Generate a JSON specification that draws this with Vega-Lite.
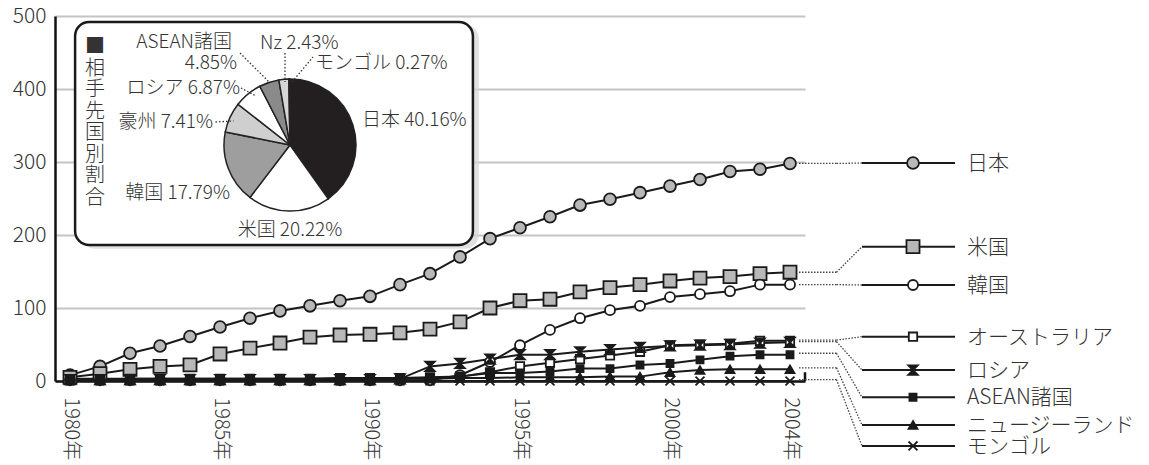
{
  "$schema": "https://vega.github.io/schema/vega-lite/v6.json",
  "autosize": {"type": "none"},
  "width": 750,
  "height": 365,
  "padding": {"left": 55, "top": 16, "right": 344, "bottom": 84},
  "background": "white",
  "config": {
    "view": {"stroke": null},
    "font": "Noto Sans CJK JP",
    "text": {"font": "Noto Sans CJK JP", "color": "#333333", "fontWeight": 300},
    "axisX": {"ticks": false, "grid": false, "domainColor": "#111111", "domainWidth": 2.5,
              "labelAngle": 90, "labelAlign": "left", "labelBaseline": "middle", "labelPadding": 16,
              "labelFontSize": 20, "labelColor": "#333333", "labelFont": "Noto Sans CJK JP", "labelFontWeight": 300, "title": null},
    "axisY": {"ticks": false, "grid": true, "gridColor": "#c4c4c4", "gridWidth": 2, "domainColor": "#111111", "domainWidth": 2.5,
              "labelPadding": 9, "labelFontSize": 21, "labelColor": "#333333", "labelFont": "Noto Sans CJK JP", "labelFontWeight": 300, "title": null}
  },
  "datasets": {
    "series": [
      {"year":1980,"country":"日本","value":8},{"year":1981,"country":"日本","value":20},{"year":1982,"country":"日本","value":38},{"year":1983,"country":"日本","value":48},{"year":1984,"country":"日本","value":61},{"year":1985,"country":"日本","value":74},{"year":1986,"country":"日本","value":86},{"year":1987,"country":"日本","value":96},{"year":1988,"country":"日本","value":103},{"year":1989,"country":"日本","value":110},{"year":1990,"country":"日本","value":116},{"year":1991,"country":"日本","value":132},{"year":1992,"country":"日本","value":147},{"year":1993,"country":"日本","value":170},{"year":1994,"country":"日本","value":195},{"year":1995,"country":"日本","value":210},{"year":1996,"country":"日本","value":225},{"year":1997,"country":"日本","value":241},{"year":1998,"country":"日本","value":249},{"year":1999,"country":"日本","value":258},{"year":2000,"country":"日本","value":267},{"year":2001,"country":"日本","value":276},{"year":2002,"country":"日本","value":287},{"year":2003,"country":"日本","value":290},{"year":2004,"country":"日本","value":298},
      {"year":1980,"country":"米国","value":5},{"year":1981,"country":"米国","value":10},{"year":1982,"country":"米国","value":16},{"year":1983,"country":"米国","value":20},{"year":1984,"country":"米国","value":22},{"year":1985,"country":"米国","value":37},{"year":1986,"country":"米国","value":45},{"year":1987,"country":"米国","value":52},{"year":1988,"country":"米国","value":60},{"year":1989,"country":"米国","value":63},{"year":1990,"country":"米国","value":64},{"year":1991,"country":"米国","value":66},{"year":1992,"country":"米国","value":71},{"year":1993,"country":"米国","value":81},{"year":1994,"country":"米国","value":100},{"year":1995,"country":"米国","value":110},{"year":1996,"country":"米国","value":112},{"year":1997,"country":"米国","value":122},{"year":1998,"country":"米国","value":128},{"year":1999,"country":"米国","value":132},{"year":2000,"country":"米国","value":137},{"year":2001,"country":"米国","value":141},{"year":2002,"country":"米国","value":143},{"year":2003,"country":"米国","value":147},{"year":2004,"country":"米国","value":149},
      {"year":1980,"country":"韓国","value":1},{"year":1981,"country":"韓国","value":1},{"year":1982,"country":"韓国","value":1},{"year":1983,"country":"韓国","value":1},{"year":1984,"country":"韓国","value":1},{"year":1985,"country":"韓国","value":1},{"year":1986,"country":"韓国","value":1},{"year":1987,"country":"韓国","value":1},{"year":1988,"country":"韓国","value":1},{"year":1989,"country":"韓国","value":1},{"year":1990,"country":"韓国","value":1},{"year":1991,"country":"韓国","value":1},{"year":1992,"country":"韓国","value":1},{"year":1993,"country":"韓国","value":8},{"year":1994,"country":"韓国","value":26},{"year":1995,"country":"韓国","value":49},{"year":1996,"country":"韓国","value":70},{"year":1997,"country":"韓国","value":86},{"year":1998,"country":"韓国","value":97},{"year":1999,"country":"韓国","value":103},{"year":2000,"country":"韓国","value":115},{"year":2001,"country":"韓国","value":119},{"year":2002,"country":"韓国","value":123},{"year":2003,"country":"韓国","value":132},{"year":2004,"country":"韓国","value":132},
      {"year":1980,"country":"オーストラリア","value":2},{"year":1981,"country":"オーストラリア","value":2},{"year":1982,"country":"オーストラリア","value":3},{"year":1983,"country":"オーストラリア","value":3},{"year":1984,"country":"オーストラリア","value":3},{"year":1985,"country":"オーストラリア","value":3},{"year":1986,"country":"オーストラリア","value":3},{"year":1987,"country":"オーストラリア","value":3},{"year":1988,"country":"オーストラリア","value":3},{"year":1989,"country":"オーストラリア","value":4},{"year":1990,"country":"オーストラリア","value":4},{"year":1991,"country":"オーストラリア","value":4},{"year":1992,"country":"オーストラリア","value":5},{"year":1993,"country":"オーストラリア","value":6},{"year":1994,"country":"オーストラリア","value":12},{"year":1995,"country":"オーストラリア","value":20},{"year":1996,"country":"オーストラリア","value":25},{"year":1997,"country":"オーストラリア","value":30},{"year":1998,"country":"オーストラリア","value":35},{"year":1999,"country":"オーストラリア","value":40},{"year":2000,"country":"オーストラリア","value":49},{"year":2001,"country":"オーストラリア","value":50},{"year":2002,"country":"オーストラリア","value":51},{"year":2003,"country":"オーストラリア","value":55},{"year":2004,"country":"オーストラリア","value":55},
      {"year":1980,"country":"ロシア","value":2},{"year":1981,"country":"ロシア","value":2},{"year":1982,"country":"ロシア","value":2},{"year":1983,"country":"ロシア","value":2},{"year":1984,"country":"ロシア","value":2},{"year":1985,"country":"ロシア","value":2},{"year":1986,"country":"ロシア","value":2},{"year":1987,"country":"ロシア","value":2},{"year":1988,"country":"ロシア","value":2},{"year":1989,"country":"ロシア","value":2},{"year":1990,"country":"ロシア","value":2},{"year":1991,"country":"ロシア","value":3},{"year":1992,"country":"ロシア","value":20},{"year":1993,"country":"ロシア","value":24},{"year":1994,"country":"ロシア","value":30},{"year":1995,"country":"ロシア","value":36},{"year":1996,"country":"ロシア","value":36},{"year":1997,"country":"ロシア","value":40},{"year":1998,"country":"ロシア","value":43},{"year":1999,"country":"ロシア","value":46},{"year":2000,"country":"ロシア","value":48},{"year":2001,"country":"ロシア","value":49},{"year":2002,"country":"ロシア","value":50},{"year":2003,"country":"ロシア","value":52},{"year":2004,"country":"ロシア","value":53},
      {"year":1980,"country":"ASEAN諸国","value":3},{"year":1981,"country":"ASEAN諸国","value":3},{"year":1982,"country":"ASEAN諸国","value":3},{"year":1983,"country":"ASEAN諸国","value":3},{"year":1984,"country":"ASEAN諸国","value":3},{"year":1985,"country":"ASEAN諸国","value":3},{"year":1986,"country":"ASEAN諸国","value":3},{"year":1987,"country":"ASEAN諸国","value":3},{"year":1988,"country":"ASEAN諸国","value":3},{"year":1989,"country":"ASEAN諸国","value":3},{"year":1990,"country":"ASEAN諸国","value":3},{"year":1991,"country":"ASEAN諸国","value":4},{"year":1992,"country":"ASEAN諸国","value":4},{"year":1993,"country":"ASEAN諸国","value":6},{"year":1994,"country":"ASEAN諸国","value":11},{"year":1995,"country":"ASEAN諸国","value":11},{"year":1996,"country":"ASEAN諸国","value":13},{"year":1997,"country":"ASEAN諸国","value":17},{"year":1998,"country":"ASEAN諸国","value":17},{"year":1999,"country":"ASEAN諸国","value":22},{"year":2000,"country":"ASEAN諸国","value":24},{"year":2001,"country":"ASEAN諸国","value":29},{"year":2002,"country":"ASEAN諸国","value":34},{"year":2003,"country":"ASEAN諸国","value":36},{"year":2004,"country":"ASEAN諸国","value":36},
      {"year":1980,"country":"ニュージーランド","value":2},{"year":1981,"country":"ニュージーランド","value":2},{"year":1982,"country":"ニュージーランド","value":2},{"year":1983,"country":"ニュージーランド","value":2},{"year":1984,"country":"ニュージーランド","value":2},{"year":1985,"country":"ニュージーランド","value":2},{"year":1986,"country":"ニュージーランド","value":2},{"year":1987,"country":"ニュージーランド","value":2},{"year":1988,"country":"ニュージーランド","value":2},{"year":1989,"country":"ニュージーランド","value":3},{"year":1990,"country":"ニュージーランド","value":3},{"year":1991,"country":"ニュージーランド","value":3},{"year":1992,"country":"ニュージーランド","value":3},{"year":1993,"country":"ニュージーランド","value":4},{"year":1994,"country":"ニュージーランド","value":4},{"year":1995,"country":"ニュージーランド","value":5},{"year":1996,"country":"ニュージーランド","value":5},{"year":1997,"country":"ニュージーランド","value":5},{"year":1998,"country":"ニュージーランド","value":6},{"year":1999,"country":"ニュージーランド","value":6},{"year":2000,"country":"ニュージーランド","value":12},{"year":2001,"country":"ニュージーランド","value":15},{"year":2002,"country":"ニュージーランド","value":16},{"year":2003,"country":"ニュージーランド","value":16},{"year":2004,"country":"ニュージーランド","value":16},
      {"year":1980,"country":"モンゴル","value":0},{"year":1981,"country":"モンゴル","value":0},{"year":1982,"country":"モンゴル","value":0},{"year":1983,"country":"モンゴル","value":0},{"year":1984,"country":"モンゴル","value":0},{"year":1985,"country":"モンゴル","value":0},{"year":1986,"country":"モンゴル","value":0},{"year":1987,"country":"モンゴル","value":0},{"year":1988,"country":"モンゴル","value":0},{"year":1989,"country":"モンゴル","value":0},{"year":1990,"country":"モンゴル","value":0},{"year":1991,"country":"モンゴル","value":0},{"year":1992,"country":"モンゴル","value":0},{"year":1993,"country":"モンゴル","value":0},{"year":1994,"country":"モンゴル","value":0},{"year":1995,"country":"モンゴル","value":0},{"year":1996,"country":"モンゴル","value":0},{"year":1997,"country":"モンゴル","value":0},{"year":1998,"country":"モンゴル","value":0},{"year":1999,"country":"モンゴル","value":0},{"year":2000,"country":"モンゴル","value":0},{"year":2001,"country":"モンゴル","value":0},{"year":2002,"country":"モンゴル","value":0},{"year":2003,"country":"モンゴル","value":0},{"year":2004,"country":"モンゴル","value":0}
    ],
    "pie": [
      {"slice":"日本","pct":40.16},{"slice":"米国","pct":20.22},{"slice":"韓国","pct":17.79},{"slice":"豪州","pct":7.41},{"slice":"ロシア","pct":6.87},{"slice":"ASEAN諸国","pct":4.85},{"slice":"Nz","pct":2.43},{"slice":"モンゴル","pct":0.27}
    ],
    "legend": [
      {"country":"日本","endValue":298,"legendValue":298.6},
      {"country":"米国","endValue":149,"legendValue":184},
      {"country":"韓国","endValue":132,"legendValue":131.5},
      {"country":"オーストラリア","endValue":56,"legendValue":60.7},
      {"country":"ロシア","endValue":54,"legendValue":15},
      {"country":"ASEAN諸国","endValue":38,"legendValue":-22.3},
      {"country":"ニュージーランド","endValue":18,"legendValue":-60.3},
      {"country":"モンゴル","endValue":2,"legendValue":-89}
    ]
  },
  "layer": [
    {
      "data": {"name": "series"},
      "mark": {"type": "line", "color": "#1a1a1a", "strokeWidth": 2},
      "encoding": {
        "x": {"field": "year", "type": "quantitative", "title": null,
              "scale": {"domain": [1979.5, 2004.5], "nice": false, "zero": false},
              "axis": {"values": [1980, 1985, 1990, 1995, 2000, 2004], "labelExpr": "datum.value + '年'"}},
        "y": {"field": "value", "type": "quantitative", "title": null,
              "scale": {"domain": [0, 500], "nice": false},
              "axis": {"values": [0, 100, 200, 300, 400, 500]}},
        "detail": {"field": "country"}
      }
    },
    {
      "data": {"values": [{}]},
      "mark": {"type": "rule", "color": "#111111", "strokeWidth": 2.5},
      "encoding": {
        "x": {"datum": 2004.5, "type": "quantitative", "title": null},
        "y": {"datum": 0, "type": "quantitative", "title": null},
        "y2": {"datum": 12}
      }
    },
    {
      "data": {"values": [{}]},
      "mark": {"type": "rect", "fill": "#d4d4d4", "opacity": 0.7, "cornerRadius": 14},
      "encoding": {
        "x": {"datum": 1980.37, "type": "quantitative", "title": null},
        "x2": {"datum": 1993.63},
        "y": {"datum": 488, "type": "quantitative", "title": null},
        "y2": {"datum": 181}
      }
    },
    {
      "data": {"values": [{}]},
      "mark": {"type": "rect", "fill": "white", "stroke": "#1a1a1a", "strokeWidth": 2.5, "cornerRadius": 14},
      "encoding": {
        "x": {"datum": 1980.17, "type": "quantitative", "title": null},
        "x2": {"datum": 1993.43},
        "y": {"datum": 491.8, "type": "quantitative", "title": null},
        "y2": {"datum": 186.3}
      }
    },
    {
      "data": {"name": "pie"},
      "mark": {"type": "arc", "outerRadius": 66, "stroke": "#222222", "strokeWidth": 1.5},
      "encoding": {
        "theta": {"field": "pct", "type": "quantitative", "stack": true},
        "order": {"field": "pct", "sort": "descending"},
        "color": {"field": "slice", "type": "nominal", "legend": null,
                  "scale": {"domain": ["日本","米国","韓国","豪州","ロシア","ASEAN諸国","Nz","モンゴル"],
                            "range": ["#231f20","#ffffff","#9e9e9e","#cfcfcf","#ffffff","#8a8a8a","#d6d6d6","#ffffff"]}},
        "x": {"datum": 1987.333, "type": "quantitative", "title": null},
        "y": {"datum": 323.3, "type": "quantitative", "title": null}
      }
    },
    {
      "data": {"values": [{}]},
      "mark": {"type": "rule", "color": "#333333", "strokeWidth": 1.3, "strokeDash": [1.5, 2]},
      "encoding": {"x": {"datum": 1985.667, "type": "quantitative", "title": null}, "y": {"datum": 449.3, "type": "quantitative", "title": null}, "x2": {"datum": 1986.667}, "y2": {"datum": 408.2}}
    },
    {
      "data": {"values": [{}]},
      "mark": {"type": "rule", "color": "#333333", "strokeWidth": 1.3, "strokeDash": [1.5, 2]},
      "encoding": {"x": {"datum": 1987.167, "type": "quantitative", "title": null}, "y": {"datum": 449.3, "type": "quantitative", "title": null}, "x2": {"datum": 1987.167}, "y2": {"datum": 409.6}}
    },
    {
      "data": {"values": [{}]},
      "mark": {"type": "rule", "color": "#333333", "strokeWidth": 1.3, "strokeDash": [1.5, 2]},
      "encoding": {"x": {"datum": 1987.4, "type": "quantitative", "title": null}, "y": {"datum": 409.6, "type": "quantitative", "title": null}, "x2": {"datum": 1988.1}, "y2": {"datum": 443.8}}
    },
    {
      "data": {"values": [{}]},
      "mark": {"type": "rule", "color": "#333333", "strokeWidth": 1.3, "strokeDash": [1.5, 2]},
      "encoding": {"x": {"datum": 1985.7, "type": "quantitative", "title": null}, "y": {"datum": 401.4, "type": "quantitative", "title": null}, "x2": {"datum": 1986.2}, "y2": {"datum": 390.4}}
    },
    {
      "data": {"values": [{}]},
      "mark": {"type": "rule", "color": "#333333", "strokeWidth": 1.3, "strokeDash": [1.5, 2]},
      "encoding": {"x": {"datum": 1984.85, "type": "quantitative", "title": null}, "y": {"datum": 354.8, "type": "quantitative", "title": null}, "x2": {"datum": 1985.45}, "y2": {"datum": 356.2}}
    },
    {
      "data": {"values": [{}]},
      "mark": {"type": "text", "text": ["■","相","手","先","国","別","割","合"], "align": "center", "baseline": "top", "fontSize": 20, "lineHeight": 21.5},
      "encoding": {"x": {"datum": 1980.833, "type": "quantitative", "title": null}, "y": {"datum": 471, "type": "quantitative", "title": null}}
    },
    {
      "data": {"values": [{}]},
      "mark": {"type": "text", "text": "ASEAN諸国", "align": "right", "baseline": "middle", "fontSize": 19},
      "encoding": {"x": {"datum": 1985.4, "type": "quantitative", "title": null}, "y": {"datum": 464, "type": "quantitative", "title": null}}
    },
    {
      "data": {"values": [{}]},
      "mark": {"type": "text", "text": "4.85%", "align": "right", "baseline": "middle", "fontSize": 19},
      "encoding": {"x": {"datum": 1985.567, "type": "quantitative", "title": null}, "y": {"datum": 436, "type": "quantitative", "title": null}}
    },
    {
      "data": {"values": [{}]},
      "mark": {"type": "text", "text": "Nz 2.43%", "align": "left", "baseline": "middle", "fontSize": 19},
      "encoding": {"x": {"datum": 1986.333, "type": "quantitative", "title": null}, "y": {"datum": 463, "type": "quantitative", "title": null}}
    },
    {
      "data": {"values": [{}]},
      "mark": {"type": "text", "text": "モンゴル 0.27%", "align": "left", "baseline": "middle", "fontSize": 19},
      "encoding": {"x": {"datum": 1988.167, "type": "quantitative", "title": null}, "y": {"datum": 435.6, "type": "quantitative", "title": null}}
    },
    {
      "data": {"values": [{}]},
      "mark": {"type": "text", "text": "ロシア 6.87%", "align": "right", "baseline": "middle", "fontSize": 19},
      "encoding": {"x": {"datum": 1985.667, "type": "quantitative", "title": null}, "y": {"datum": 401.4, "type": "quantitative", "title": null}}
    },
    {
      "data": {"values": [{}]},
      "mark": {"type": "text", "text": "豪州 7.41%", "align": "right", "baseline": "middle", "fontSize": 19},
      "encoding": {"x": {"datum": 1984.767, "type": "quantitative", "title": null}, "y": {"datum": 354.8, "type": "quantitative", "title": null}}
    },
    {
      "data": {"values": [{}]},
      "mark": {"type": "text", "text": "日本 40.16%", "align": "left", "baseline": "middle", "fontSize": 19},
      "encoding": {"x": {"datum": 1989.733, "type": "quantitative", "title": null}, "y": {"datum": 357.5, "type": "quantitative", "title": null}}
    },
    {
      "data": {"values": [{}]},
      "mark": {"type": "text", "text": "韓国 17.79%", "align": "right", "baseline": "middle", "fontSize": 19},
      "encoding": {"x": {"datum": 1985.333, "type": "quantitative", "title": null}, "y": {"datum": 257.5, "type": "quantitative", "title": null}}
    },
    {
      "data": {"values": [{}]},
      "mark": {"type": "text", "text": "米国 20.22%", "align": "center", "baseline": "middle", "fontSize": 19},
      "encoding": {"x": {"datum": 1987.333, "type": "quantitative", "title": null}, "y": {"datum": 206.8, "type": "quantitative", "title": null}}
    },
    {
      "data": {"name": "series"},
      "mark": {"type": "point", "filled": false, "opacity": 1, "stroke": "#1a1a1a", "strokeWidth": 1.8},
      "encoding": {
        "x": {"field": "year", "type": "quantitative", "title": null},
        "y": {"field": "value", "type": "quantitative", "title": null},
        "shape": {"field": "country", "type": "nominal", "legend": null,
                  "scale": {"domain": ["日本","米国","韓国","オーストラリア","ロシア","ASEAN諸国","ニュージーランド","モンゴル"],
                            "range": ["circle","square","circle","square","M-1,-1L1,-1L-1,1L1,1Z","square","triangle-up","M-1,-1L1,1M-1,1L1,-1"]}},
        "fill": {"field": "country", "type": "nominal", "legend": null,
                 "scale": {"domain": ["日本","米国","韓国","オーストラリア","ロシア","ASEAN諸国","ニュージーランド","モンゴル"],
                           "range": ["#b8b8b8","#b8b8b8","#ffffff","#ffffff","#1a1a1a","#1a1a1a","#1a1a1a","transparent"]}},
        "size": {"condition": [
                   {"test": "datum.country === '日本'", "value": 140},
                   {"test": "datum.country === '米国'", "value": 170},
                   {"test": "datum.country === '韓国'", "value": 100},
                   {"test": "datum.country === 'オーストラリア'", "value": 70},
                   {"test": "datum.country === 'ロシア'", "value": 90},
                   {"test": "datum.country === 'ASEAN諸国'", "value": 50}
                 ], "value": 80}
      }
    },
    {
      "data": {"name": "legend"},
      "mark": {"type": "rule", "color": "#444444", "strokeWidth": 1.3, "strokeDash": [1.5, 1.5]},
      "encoding": {
        "x": {"datum": 2004.3, "type": "quantitative", "title": null},
        "x2": {"datum": 2005.55},
        "y": {"field": "endValue", "type": "quantitative", "title": null}
      }
    },
    {
      "data": {"name": "legend"},
      "mark": {"type": "rule", "color": "#444444", "strokeWidth": 1.3, "strokeDash": [1.5, 1.5]},
      "encoding": {
        "x": {"datum": 2005.55, "type": "quantitative", "title": null},
        "x2": {"datum": 2006.4},
        "y": {"field": "endValue", "type": "quantitative", "title": null},
        "y2": {"field": "legendValue"}
      }
    },
    {
      "data": {"name": "legend"},
      "mark": {"type": "rule", "color": "#1a1a1a", "strokeWidth": 2},
      "encoding": {
        "x": {"datum": 2006.4, "type": "quantitative", "title": null},
        "x2": {"datum": 2009.5},
        "y": {"field": "legendValue", "type": "quantitative", "title": null}
      }
    },
    {
      "data": {"name": "legend"},
      "mark": {"type": "point", "filled": false, "opacity": 1, "stroke": "#1a1a1a", "strokeWidth": 1.8},
      "encoding": {
        "x": {"datum": 2008.1, "type": "quantitative", "title": null},
        "y": {"field": "legendValue", "type": "quantitative", "title": null},
        "shape": {"field": "country", "type": "nominal", "legend": null,
                  "scale": {"domain": ["日本","米国","韓国","オーストラリア","ロシア","ASEAN諸国","ニュージーランド","モンゴル"],
                            "range": ["circle","square","circle","square","M-1,-1L1,-1L-1,1L1,1Z","square","triangle-up","M-1,-1L1,1M-1,1L1,-1"]}},
        "fill": {"field": "country", "type": "nominal", "legend": null,
                 "scale": {"domain": ["日本","米国","韓国","オーストラリア","ロシア","ASEAN諸国","ニュージーランド","モンゴル"],
                           "range": ["#b8b8b8","#b8b8b8","#ffffff","#ffffff","#1a1a1a","#1a1a1a","#1a1a1a","transparent"]}},
        "size": {"condition": [
                   {"test": "datum.country === '日本'", "value": 140},
                   {"test": "datum.country === '米国'", "value": 170},
                   {"test": "datum.country === '韓国'", "value": 100},
                   {"test": "datum.country === 'オーストラリア'", "value": 70},
                   {"test": "datum.country === 'ロシア'", "value": 90},
                   {"test": "datum.country === 'ASEAN諸国'", "value": 50}
                 ], "value": 80}
      }
    },
    {
      "data": {"name": "legend"},
      "mark": {"type": "text", "align": "left", "baseline": "middle", "fontSize": 21, "dy": 1},
      "encoding": {
        "x": {"datum": 2009.9, "type": "quantitative", "title": null},
        "y": {"field": "legendValue", "type": "quantitative", "title": null},
        "text": {"field": "country"}
      }
    }
  ]
}
